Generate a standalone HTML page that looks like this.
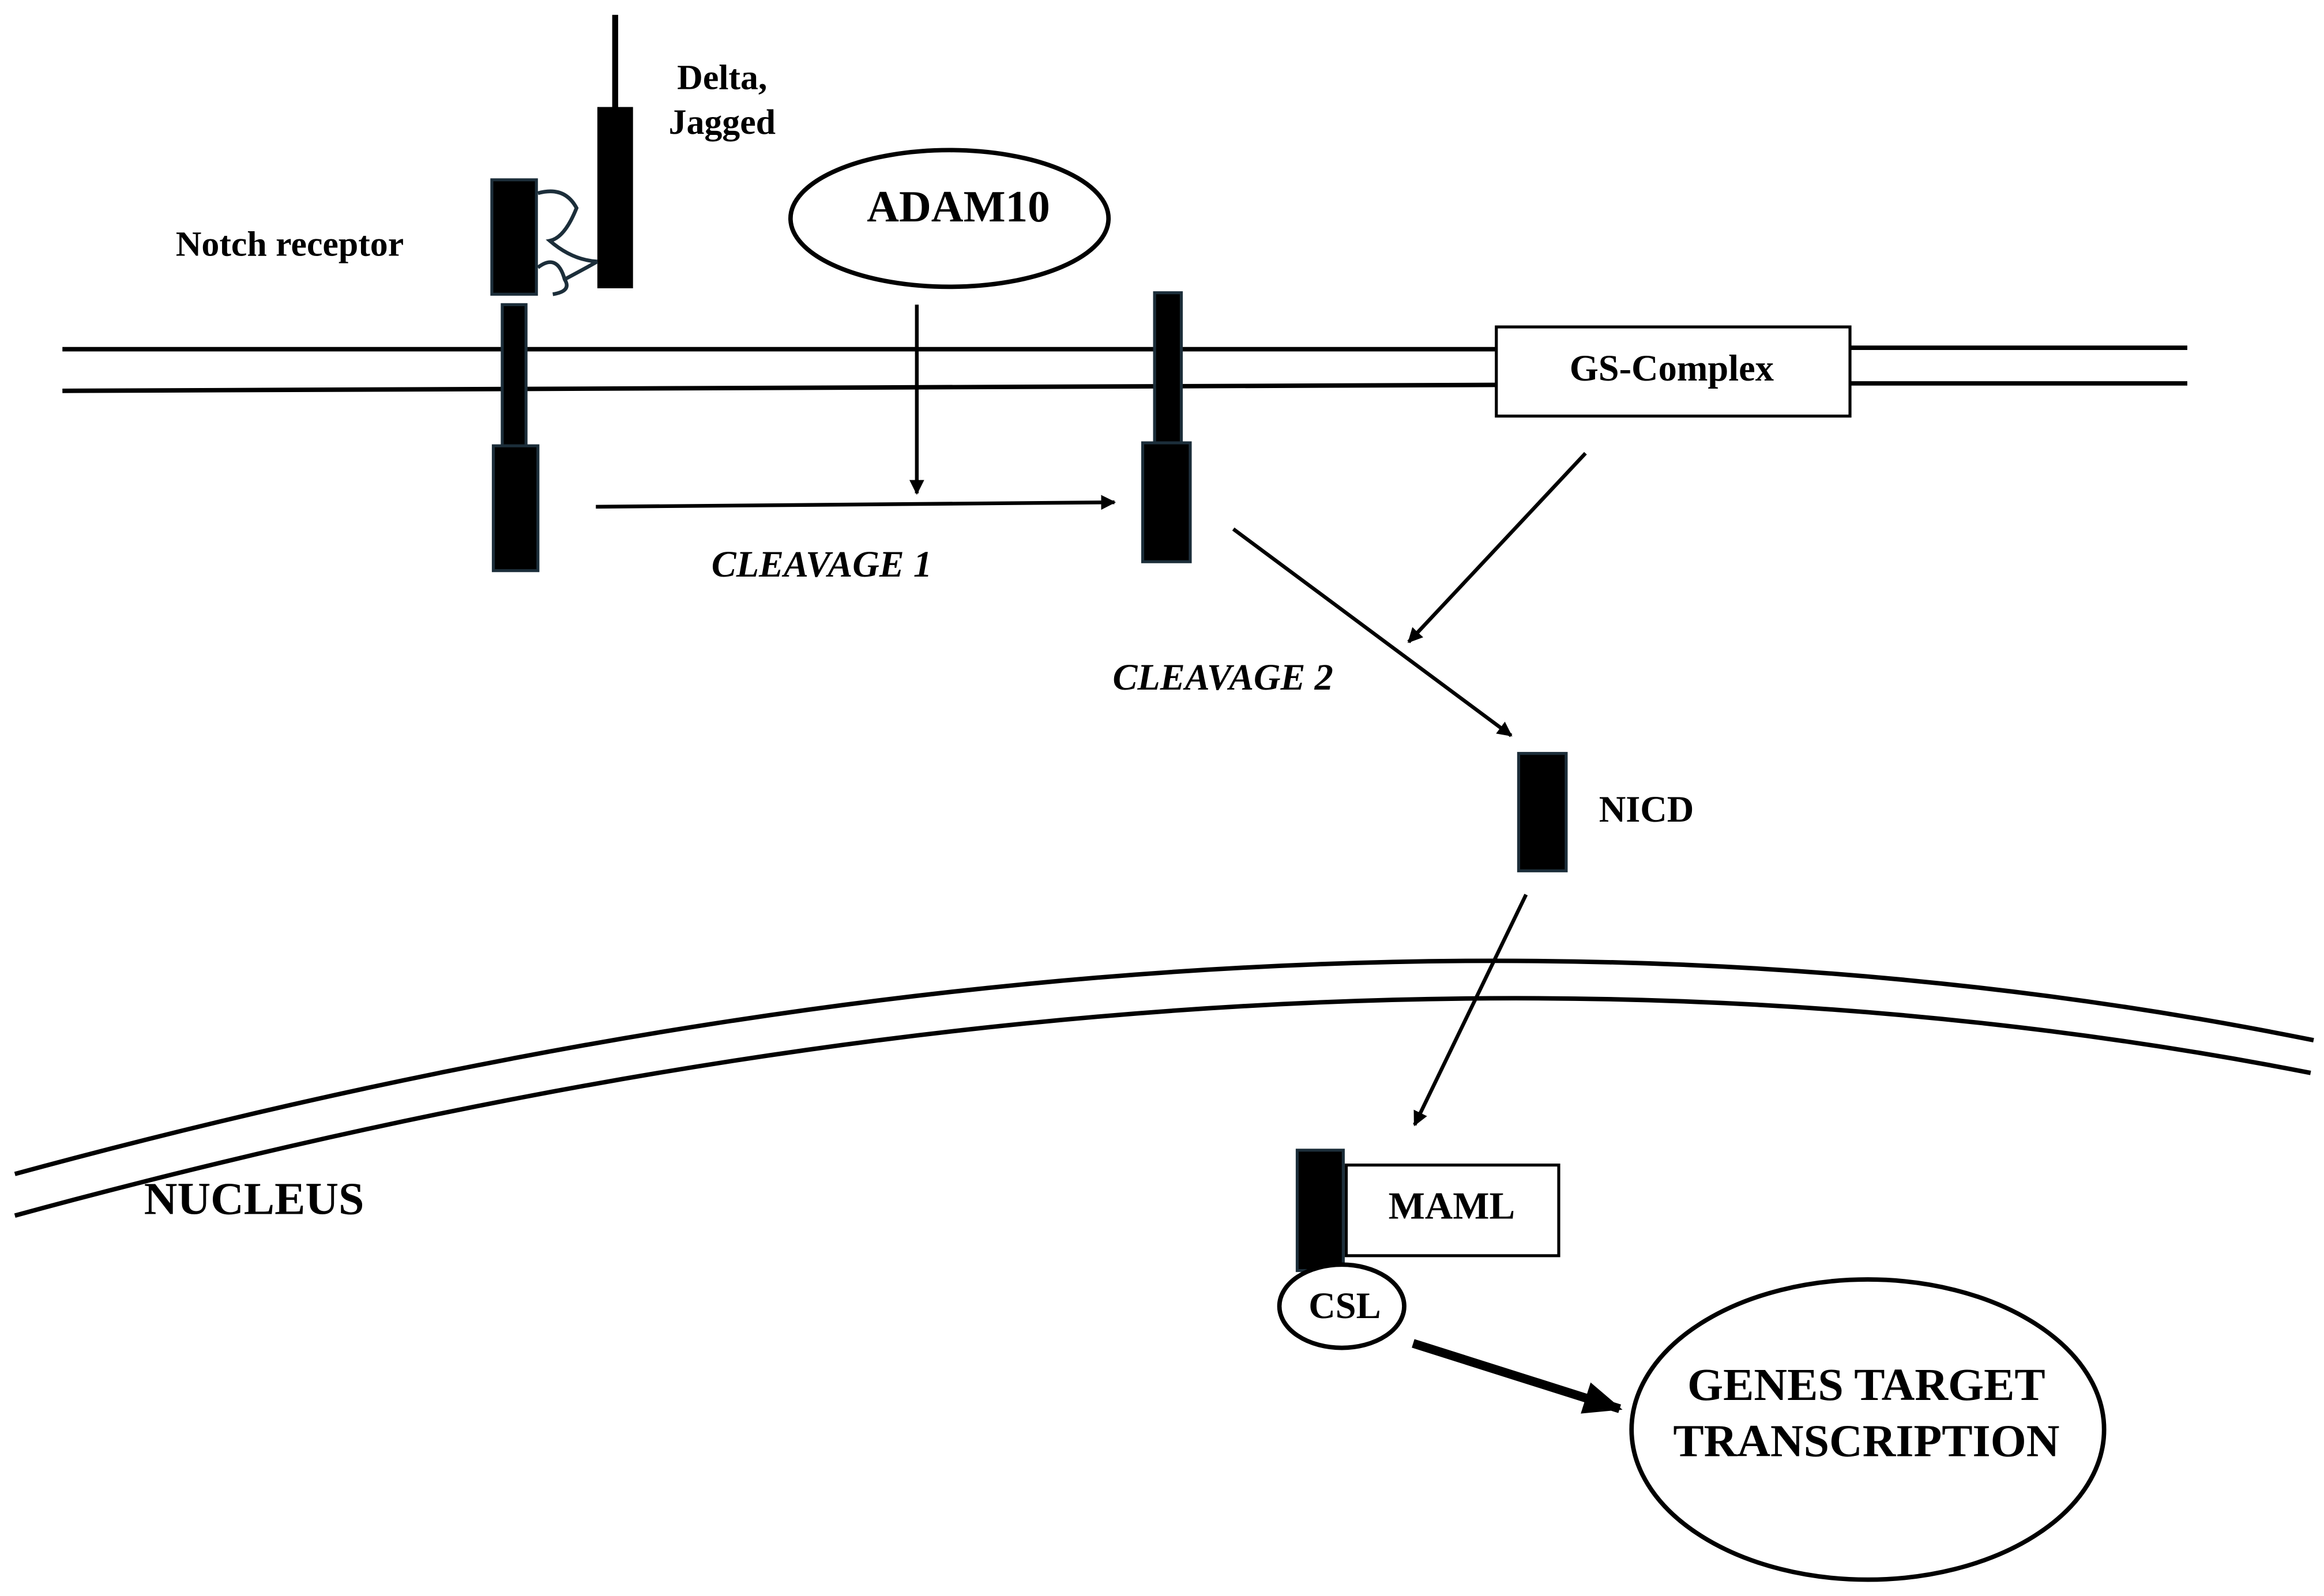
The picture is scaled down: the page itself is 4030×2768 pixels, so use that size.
<!DOCTYPE html>
<html><head><meta charset="utf-8"><style>
html,body{margin:0;padding:0;background:#fff;}
svg{display:block;}
text{font-family:"Liberation Serif",serif;font-weight:bold;fill:#000;}
</style></head><body>
<svg width="4030" height="2768" viewBox="0 0 1564 1074" preserveAspectRatio="none" xmlns="http://www.w3.org/2000/svg">
<defs>
<marker id="ah" markerWidth="10" markerHeight="10" refX="9" refY="5" orient="auto" markerUnits="userSpaceOnUse"><path d="M0,0 L10,5 L0,10 Z" fill="#000"/></marker>
<marker id="ah2" markerWidth="26" markerHeight="22" refX="24" refY="11" orient="auto" markerUnits="userSpaceOnUse"><path d="M0,0 L26,11 L0,22 Z" fill="#000"/></marker>
</defs>
<g stroke="#000" stroke-width="3" fill="none">
<line x1="42" y1="235" x2="1007" y2="235"/>
<line x1="42" y1="263" x2="1007" y2="259"/>
<line x1="1245" y1="234" x2="1472" y2="234"/>
<line x1="1245" y1="258" x2="1472" y2="258"/>
<path d="M10,790 Q860,559 1557,700"/>
<path d="M10,818 Q860,586 1555,722"/>
</g>
<rect x="1007" y="220" width="238" height="60" fill="#fff" stroke="#000" stroke-width="2"/>
<text x="1125" y="256" font-size="25" text-anchor="middle">GS-Complex</text>
<line x1="414" y1="10" x2="414" y2="74" stroke="#000" stroke-width="4"/>
<rect x="402" y="72" width="24" height="122" fill="#000"/>
<text x="486" y="60" font-size="24" text-anchor="middle">Delta,</text>
<text x="486" y="90" font-size="24" text-anchor="middle">Jagged</text>
<text x="195" y="172" font-size="24" text-anchor="middle">Notch receptor</text>
<rect x="331" y="121" width="30" height="77" fill="#000" stroke="#1c2e3a" stroke-width="2"/>
<path d="M362,130 Q380,125 388,140 Q380,160 370,162 Q385,175 402,176 M362,180 Q375,170 380,188 Q385,196 372,198 M380,188 Q395,180 402,176" fill="none" stroke="#1c2e3a" stroke-width="2.5"/>
<rect x="338" y="205" width="16" height="105" fill="#000" stroke="#1c2e3a" stroke-width="2"/>
<rect x="332" y="300" width="30" height="84" fill="#000" stroke="#1c2e3a" stroke-width="2"/>
<ellipse cx="639" cy="147" rx="107" ry="46" fill="#fff" stroke="#000" stroke-width="3"/>
<text x="645" y="149" font-size="30" text-anchor="middle">ADAM10</text>
<g stroke="#000" stroke-width="2.5">
<line x1="617" y1="205" x2="617" y2="332" marker-end="url(#ah)"/>
<line x1="401" y1="341" x2="750" y2="338" marker-end="url(#ah)"/>
<line x1="830" y1="356" x2="1017" y2="495" marker-end="url(#ah)"/>
<line x1="1067" y1="305" x2="948" y2="432" marker-end="url(#ah)"/>
<line x1="1027" y1="602" x2="952" y2="757" marker-end="url(#ah)"/>
<line x1="951" y1="904" x2="1090" y2="948" stroke-width="6" marker-end="url(#ah2)"/>
</g>
<text x="553" y="388" font-size="25" font-style="italic" text-anchor="middle">CLEAVAGE 1</text>
<text x="823" y="464" font-size="25" font-style="italic" text-anchor="middle">CLEAVAGE 2</text>
<rect x="777" y="197" width="18" height="103" fill="#000" stroke="#1c2e3a" stroke-width="2"/>
<rect x="769" y="298" width="32" height="80" fill="#000" stroke="#1c2e3a" stroke-width="2"/>
<rect x="1022" y="507" width="32" height="79" fill="#000" stroke="#1c2e3a" stroke-width="2"/>
<text x="1108" y="553" font-size="25" text-anchor="middle">NICD</text>
<rect x="906" y="784" width="143" height="61" fill="#fff" stroke="#000" stroke-width="2"/>
<text x="977" y="820" font-size="26" text-anchor="middle">MAML</text>
<rect x="873" y="774" width="31" height="81" fill="#000" stroke="#1c2e3a" stroke-width="2"/>
<ellipse cx="903" cy="879" rx="42" ry="28" fill="#fff" stroke="#000" stroke-width="3"/>
<text x="905" y="887" font-size="25" text-anchor="middle">CSL</text>
<ellipse cx="1257" cy="962" rx="159" ry="101" fill="#fff" stroke="#000" stroke-width="3"/>
<text x="1256" y="942" font-size="31" text-anchor="middle">GENES TARGET</text>
<text x="1256" y="980" font-size="31" text-anchor="middle">TRANSCRIPTION</text>
<text x="171" y="817" font-size="31" text-anchor="middle">NUCLEUS</text>
</svg>
</body></html>
